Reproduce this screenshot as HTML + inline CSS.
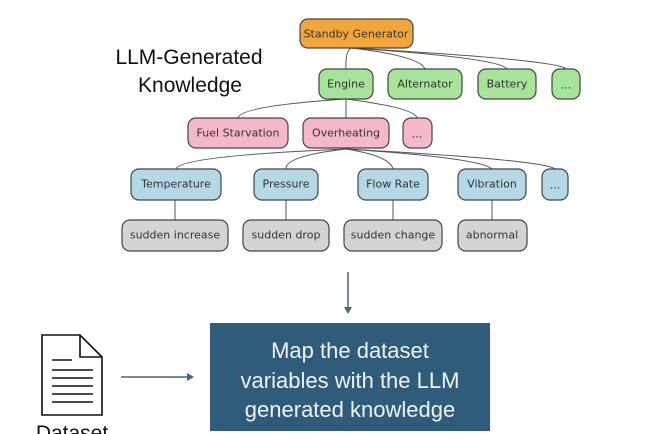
<!DOCTYPE html>
<html><head><meta charset="utf-8"><style>
html,body{margin:0;padding:0;background:#fff;}
svg{display:block;}
.n{font-family:"DejaVu Sans","Liberation Sans",sans-serif;font-size:11px;fill:#333;text-anchor:middle;dominant-baseline:central;}
</style></head><body>
<svg width="650" height="434" viewBox="0 0 650 434" xmlns="http://www.w3.org/2000/svg">
<g fill="none" stroke="#555" stroke-width="1">
<path d="M351 48 Q345 52 346 69"/>
<path d="M351 48 Q420 56 425 69"/>
<path d="M351 48 Q500 58 507 69"/>
<path d="M351 48 Q560 60 566 69"/>
<path d="M346 99 Q240 106 238 118"/>
<path d="M346 99 L346 118"/>
<path d="M346 99 Q415 108 417 118"/>
<path d="M346 149 Q180 156 176 169"/>
<path d="M346 149 Q285 156 286 169"/>
<path d="M346 149 Q390 156 393 169"/>
<path d="M346 149 Q480 158 492 169"/>
<path d="M346 149 Q545 160 555 169"/>
<path d="M175 200 V220 M286 200 V220 M393 200 V220 M492 200 V220"/>
</g>
<g stroke="#444" stroke-width="1.2">
<rect x="300" y="19" width="113" height="29" rx="8" fill="#f2a53a"/>
<rect x="319" y="69" width="54" height="30" rx="8" fill="#a8e39a"/>
<rect x="388" y="69" width="74" height="30" rx="8" fill="#a8e39a"/>
<rect x="478" y="69" width="58" height="30" rx="8" fill="#a8e39a"/>
<rect x="552" y="69" width="28" height="30" rx="8" fill="#a8e39a"/>
<rect x="188" y="118" width="100" height="30" rx="8" fill="#f4b8c8"/>
<rect x="303" y="118" width="86" height="30" rx="8" fill="#f4b8c8"/>
<rect x="403" y="118" width="29" height="30" rx="8" fill="#f4b8c8"/>
<rect x="131" y="169" width="90" height="31" rx="8" fill="#b4d8e6"/>
<rect x="254" y="169" width="64" height="31" rx="8" fill="#b4d8e6"/>
<rect x="358" y="169" width="70" height="31" rx="8" fill="#b4d8e6"/>
<rect x="458" y="169" width="68" height="31" rx="8" fill="#b4d8e6"/>
<rect x="542" y="169" width="26" height="31" rx="8" fill="#b4d8e6"/>
<rect x="122" y="220" width="106" height="31" rx="8" fill="#d4d4d4"/>
<rect x="243" y="220" width="86" height="31" rx="8" fill="#d4d4d4"/>
<rect x="344" y="220" width="98" height="31" rx="8" fill="#d4d4d4"/>
<rect x="458" y="220" width="69" height="31" rx="8" fill="#d4d4d4"/>
</g>
<text class="n" x="356" y="34">Standby Generator</text>
<text class="n" x="346" y="84">Engine</text>
<text class="n" x="425" y="84">Alternator</text>
<text class="n" x="507" y="84">Battery</text>
<text class="n" x="566" y="85">...</text>
<text class="n" x="238" y="133">Fuel Starvation</text>
<text class="n" x="346" y="133">Overheating</text>
<text class="n" x="417" y="134">...</text>
<text class="n" x="176" y="184">Temperature</text>
<text class="n" x="286" y="184">Pressure</text>
<text class="n" x="393" y="184">Flow Rate</text>
<text class="n" x="492" y="184">Vibration</text>
<text class="n" x="555" y="185">...</text>
<text class="n" x="175" y="235">sudden increase</text>
<text class="n" x="286" y="235">sudden drop</text>
<text class="n" x="393" y="235">sudden change</text>
<text class="n" x="492" y="235">abnormal</text>
<text x="189" y="64" font-family="Liberation Sans,sans-serif" font-size="21" fill="#111" text-anchor="middle">LLM-Generated</text>
<text x="190" y="92" font-family="Liberation Sans,sans-serif" font-size="21" fill="#111" text-anchor="middle">Knowledge</text>
<g stroke="#4a6678" stroke-width="1.5" fill="#4a6678">
<line x1="348" y1="272" x2="348" y2="308"/>
<path d="M344 307 L352 307 L348 314 Z" stroke="none"/>
<line x1="121" y1="377" x2="188" y2="377"/>
<path d="M187 373 L187 381 L194 377 Z" stroke="none"/>
</g>
<rect x="210" y="323" width="280" height="108" fill="#2e5c7a"/>
<g font-family="Liberation Sans,sans-serif" font-size="22" fill="#eef4f7" text-anchor="middle">
<text x="350" y="358">Map the dataset</text>
<text x="350" y="388">variables with the LLM</text>
<text x="350" y="417">generated knowledge</text>
</g>
<g fill="none" stroke="#111" stroke-width="1.6">
<path d="M42 335 H80 L102 357 V415 H42 Z"/>
<path d="M80 335 V357 H102"/>
<path d="M52 360 H72 M52 370 H93 M52 378 H93 M52 386 H93 M52 394 H93 M52 402 H93"/>
</g>
<text x="72" y="440" font-family="Liberation Sans,sans-serif" font-size="21" fill="#111" text-anchor="middle">Dataset</text>
</svg>
</body></html>
